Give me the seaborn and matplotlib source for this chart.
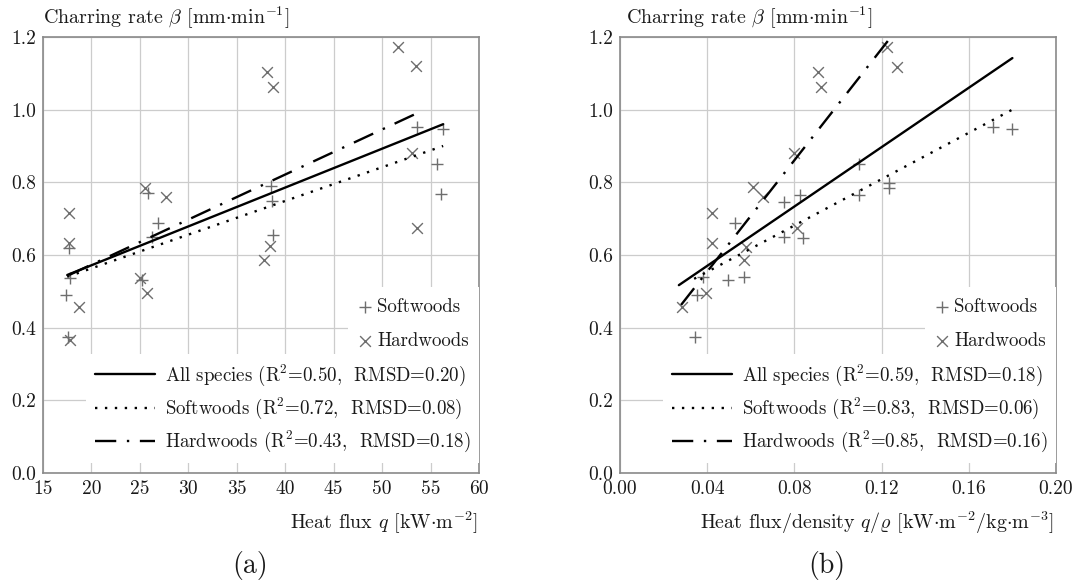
import numpy as np
import pandas as pd
import matplotlib
matplotlib.use("Agg")
import matplotlib.pyplot as plt
from matplotlib.ticker import FormatStrFormatter
import seaborn as sns

sns.set_theme(style="white")
plt.rcParams["font.family"] = ["cmr10", "DejaVu Serif"]
plt.rcParams["mathtext.fontset"] = "cm"
plt.rcParams["axes.formatter.use_mathtext"] = True

# ---------------- data: panel (a) heat flux ----------------
soft_q = [17.4, 17.6, 17.8, 17.7, 25.2, 25.8, 26.9, 26.2, 38.5, 38.6, 38.7, 53.6, 56.3, 55.7, 56.1]
soft_q_beta = [0.49, 0.374, 0.537, 0.62, 0.53, 0.77, 0.688, 0.65, 0.79, 0.75, 0.655, 0.952, 0.947, 0.85, 0.768]
hard_q = [17.7, 17.7, 18.7, 17.8, 25.0, 25.7, 25.5, 27.7, 38.1, 38.7, 37.8, 38.4, 51.6, 53.5, 53.1, 53.6]
hard_q_beta = [0.716, 0.633, 0.457, 0.366, 0.536, 0.495, 0.785, 0.76, 1.104, 1.063, 0.586, 0.625, 1.173, 1.12, 0.88, 0.674]

# ---------------- data: panel (b) heat flux / density ----------------
soft_qr = [0.0344, 0.0352, 0.038, 0.0496, 0.0527, 0.057, 0.075, 0.0752, 0.0826, 0.084, 0.1096, 0.1096, 0.1234, 0.1234, 0.171, 0.180]
soft_qr_beta = [0.374, 0.49, 0.54, 0.531, 0.688, 0.54, 0.746, 0.65, 0.765, 0.646, 0.85, 0.765, 0.797, 0.785, 0.952, 0.947]
hard_qr = [0.0284, 0.0395, 0.042, 0.042, 0.058, 0.057, 0.061, 0.0657, 0.080, 0.081, 0.091, 0.092, 0.1225, 0.127]
hard_qr_beta = [0.457, 0.495, 0.716, 0.633, 0.622, 0.586, 0.787, 0.76, 0.88, 0.674, 1.104, 1.063, 1.173, 1.117]

# ---------------- fitted lines (intercept, slope, x-start, x-end) ----------------
fit_a_all = (0.3578, 0.010696, 17.5, 56.3)
fit_a_soft = (0.3776, 0.00928, 17.5, 56.3)
fit_a_hard = (0.3255, 0.0124, 17.7, 53.6)
fit_b_all = (0.4067, 4.085, 0.027, 0.180)
fit_b_soft = (0.426, 3.19, 0.034, 0.180)
fit_b_hard = (0.248, 7.66, 0.028, 0.127)

labels_a = ["All species (R$^2$=0.50,  RMSD=0.20)",
            "Softwoods (R$^2$=0.72,  RMSD=0.08)",
            "Hardwoods (R$^2$=0.43,  RMSD=0.18)"]
labels_b = ["All species (R$^2$=0.59,  RMSD=0.18)",
            "Softwoods (R$^2$=0.83,  RMSD=0.06)",
            "Hardwoods (R$^2$=0.85,  RMSD=0.16)"]

x_ticks_a = [15, 20, 25, 30, 35, 40, 45, 50, 55, 60]
x_ticks_b = [0.00, 0.04, 0.08, 0.12, 0.16, 0.20]
y_ticks = [0.0, 0.2, 0.4, 0.6, 0.8, 1.0, 1.2]

MARK = "#6e6e6e"
GRID = "#cccccc"
SPINE = "#8a8a8a"
TXT = "#1a1a1a"
FS = 14
FS_LEG = 13.6
FS_LAB = 14.4

line_styles = ["-", (0, (1.0, 3.2)), (0, (9, 4.5, 1.0, 4.5))]

fig = plt.figure(figsize=(10.78, 5.88), dpi=100)
W, H = 1078, 588
ax_a = fig.add_axes([43 / W, (H - 473) / H, 436 / W, 436 / H])
ax_b = fig.add_axes([620 / W, (H - 473) / H, 436 / W, 436 / H])


def draw(ax, sx, sy, hx, hy, fits, labels, xlim, xticks, xfmt, xlabel, ylabel_x, xlabel_x, tag, tag_x):
    ax.set_axisbelow(True)
    ax.grid(True, color=GRID, lw=0.9)
    sns.scatterplot(x=sx, y=sy, ax=ax, marker="+", s=70, color=MARK, linewidth=1.0,
                    label="Softwoods", zorder=3)
    sns.scatterplot(x=hx, y=hy, ax=ax, marker="x", s=60, color=MARK, linewidth=1.0,
                    label="Hardwoods", zorder=3)
    for (b0, b1, x0, x1), lab, ls in zip(fits, labels, line_styles):
        xs = np.array([x0, x1])
        df = pd.DataFrame({"x": xs, "y": b0 + b1 * xs})
        sns.lineplot(data=df, x="x", y="y", ax=ax, color="black", lw=1.7,
                     linestyle=ls, label=lab, errorbar=None, zorder=4)
    ax.set_xlim(*xlim)
    ax.set_ylim(0, 1.2)
    ax.set_xticks(xticks)
    ax.set_yticks(y_ticks)
    ax.xaxis.set_major_formatter(FormatStrFormatter(xfmt))
    ax.yaxis.set_major_formatter(FormatStrFormatter("%.1f"))
    ax.set_xlabel("")
    ax.set_ylabel("")
    ax.tick_params(direction="in", length=7, width=0.9, color=SPINE, labelsize=FS,
                   labelcolor=TXT, pad=5)
    for sp in ax.spines.values():
        sp.set_color(SPINE)
        sp.set_linewidth(1.2)
    handles, labs = ax.get_legend_handles_labels()
    hmap = dict(zip(labs, handles))
    if ax.get_legend() is not None:
        ax.get_legend().remove()
    leg1 = ax.legend([hmap["Softwoods"], hmap["Hardwoods"]], ["Softwoods", "Hardwoods"],
                     loc="lower right", bbox_to_anchor=(1.0, 0.259), borderaxespad=0,
                     frameon=True, facecolor="white", edgecolor="none", framealpha=1,
                     fancybox=False, fontsize=FS_LEG, handlelength=0.7, handletextpad=0.3,
                     labelspacing=0.85, borderpad=0.55, labelcolor=TXT)
    ax.add_artist(leg1)
    ax.legend([hmap[l] for l in labels], labels,
              loc="lower right", bbox_to_anchor=(1.0, 0.023), borderaxespad=0,
              frameon=True, facecolor="white", edgecolor="none", framealpha=1,
              fancybox=False, fontsize=FS_LEG, handlelength=3.2, handletextpad=0.5,
              labelspacing=0.42, borderpad=0.45, labelcolor=TXT)
    fig.text(ylabel_x / W, 1 - 18 / H, r"Charring rate $\beta$ [mm$\cdot$min$^{-1}$]",
             ha="left", va="center", fontsize=FS_LAB, color=TXT)
    fig.text(xlabel_x / W, 1 - 523 / H, xlabel, ha="right", va="center", fontsize=FS_LAB, color=TXT)
    fig.text(tag_x / W, 1 - 565 / H, tag, ha="center", va="center", fontsize=20, color=TXT)


draw(ax_a, soft_q, soft_q_beta, hard_q, hard_q_beta,
     [fit_a_all, fit_a_soft, fit_a_hard], labels_a, (15, 60), x_ticks_a, "%d",
     r"Heat flux $q$ [kW$\cdot$m$^{-2}$]", 43, 478, "(a)", 250)
draw(ax_b, soft_qr, soft_qr_beta, hard_qr, hard_qr_beta,
     [fit_b_all, fit_b_soft, fit_b_hard], labels_b, (0, 0.2), x_ticks_b, "%.2f",
     r"Heat flux/density $q/\varrho$ [kW$\cdot$m$^{-2}$/kg$\cdot$m$^{-3}$]", 626, 1053, "(b)", 827)

fig.savefig("out.png", dpi=100, facecolor="white")
